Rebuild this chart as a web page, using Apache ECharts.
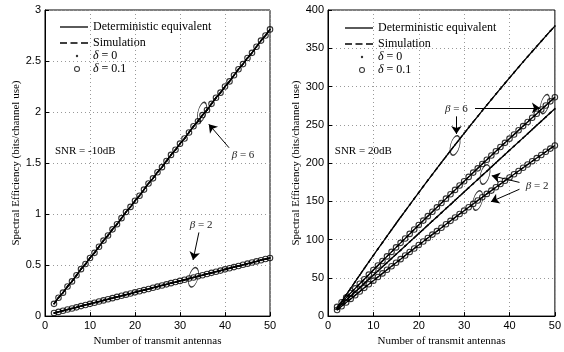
<!DOCTYPE html>
<html>
<head>
<meta charset="utf-8">
<script src="https://cdn.jsdelivr.net/npm/echarts@6.0.0/dist/echarts.min.js"></script>
<style>
html, body { margin: 0; padding: 0; background: #fff; }
#container { width: 564px; height: 352px; }
</style>
</head>
<body>
<div id="container"></div>
<script>
// number of transmit antennas
const antennas = [2, 3, 4, 5, 6, 7, 8, 9, 10, 11, 12, 13, 14, 15, 16, 17, 18, 19, 20, 21, 22, 23, 24, 25, 26,
  27, 28, 29, 30, 31, 32, 33, 34, 35, 36, 37, 38, 39, 40, 41, 42, 43, 44, 45, 46, 47, 48, 49, 50]

// SNR = -10dB (delta = 0 and delta = 0.1 lie on top of each other)
const lowB6 = [0.12, 0.18, 0.23, 0.29, 0.34, 0.40, 0.46, 0.51, 0.57, 0.62, 0.68, 0.74, 0.79, 0.85, 0.90, 0.96,
  1.02, 1.07, 1.13, 1.18, 1.24, 1.30, 1.35, 1.41, 1.46, 1.52, 1.58, 1.63, 1.69, 1.74, 1.80, 1.86, 1.91, 1.97,
  2.02, 2.08, 2.14, 2.19, 2.25, 2.30, 2.36, 2.42, 2.47, 2.53, 2.58, 2.64, 2.70, 2.75, 2.81]
const lowB2 = [0.030, 0.041, 0.053, 0.064, 0.075, 0.086, 0.098, 0.109, 0.120, 0.131, 0.143, 0.154, 0.165, 0.176,
  0.188, 0.199, 0.210, 0.221, 0.233, 0.244, 0.255, 0.266, 0.278, 0.289, 0.300, 0.311, 0.323, 0.334, 0.345, 0.356,
  0.368, 0.379, 0.390, 0.401, 0.413, 0.424, 0.435, 0.446, 0.458, 0.469, 0.480, 0.491, 0.503, 0.514, 0.525, 0.536,
  0.548, 0.559, 0.570]

// SNR = 20dB
const highB6d0 = [10.0, 18.8, 27.6, 36.4, 45.0, 53.7, 62.3, 70.8, 79.3, 87.7, 96.1, 104.5, 112.8, 121.0, 129.2,
  137.3, 145.4, 153.5, 161.5, 169.5, 177.4, 185.2, 193.0, 200.8, 208.5, 216.2, 223.8, 231.3, 238.9, 246.3, 253.8,
  261.1, 268.4, 275.7, 282.9, 290.1, 297.2, 304.3, 311.4, 318.3, 325.3, 332.2, 339.0, 345.8, 352.5, 359.2, 365.9,
  372.5, 379.0]
const highB6d1 = [12.0, 18.1, 24.1, 30.2, 36.2, 42.2, 48.2, 54.2, 60.2, 66.1, 72.1, 78.0, 83.9, 89.8, 95.7, 101.5,
  107.4, 113.2, 119.0, 124.8, 130.6, 136.3, 142.1, 147.8, 153.5, 159.2, 164.9, 170.6, 176.2, 181.9, 187.5, 193.1,
  198.7, 204.3, 209.8, 215.4, 220.9, 226.4, 231.9, 237.4, 242.8, 248.3, 253.7, 259.1, 264.5, 269.9, 275.3, 280.6,
  286.0]
const highB2d0 = [10.0, 15.4, 20.9, 26.3, 31.8, 37.2, 42.6, 48.1, 53.5, 58.9, 64.4, 69.8, 75.3, 80.7, 86.1, 91.6,
  97.0, 102.4, 107.9, 113.3, 118.8, 124.2, 129.6, 135.1, 140.5, 145.8, 151.4, 156.8, 162.3, 167.7, 173.1, 178.6,
  184.0, 189.4, 194.9, 200.3, 205.8, 211.2, 216.6, 222.1, 227.5, 232.9, 238.4, 243.8, 249.3, 254.7, 260.1, 265.6,
  271.0]
const highB2d1 = [8.0, 12.8, 17.7, 22.5, 27.3, 32.1, 36.9, 41.6, 46.3, 51.1, 55.8, 60.5, 65.1, 69.8, 74.4, 79.1,
  83.7, 88.3, 92.9, 97.4, 102.0, 106.5, 111.0, 115.5, 120.0, 124.5, 128.9, 133.4, 137.8, 142.2, 146.6, 151.0,
  155.3, 159.7, 164.0, 168.3, 172.6, 176.9, 181.2, 185.4, 189.7, 193.9, 198.1, 202.3, 206.5, 210.6, 214.7, 218.9,
  223.0]

const serif = 'Liberation Serif'
const sans = 'Liberation Sans'

// annotation spots, in data coordinates of each panel
const notes = [
  {
    grid: 0,
    snr: { at: [2.2, 1.62], text: 'SNR = -10dB' },
    ellipses: [[34.9, 2.0, 8, 20], [33, 0.38, 9, 20]],
    arrows: [[[40.9, 1.65], [36.4, 1.88]], [[34.2, 0.82], [32.9, 0.55]]],
    labels: [[44, 1.58, '6'], [34.7, 0.89, '2']]
  },
  {
    grid: 1,
    snr: { at: [1.5, 216], text: 'SNR = 20dB' },
    ellipses: [[28, 223, 9, 20], [47.8, 277, 8, 20], [34.6, 185, 9, 20], [33, 151, 9, 20]],
    arrows: [[[28.3, 261], [28.3, 238]], [[32.4, 272], [46.7, 272]],
      [[42.2, 174.7], [36.1, 183.5]], [[42.2, 165.8], [35.9, 149.4]]],
    labels: [[28.3, 271, '6'], [46.1, 169.6, '2']]
  }
]

const pair = ys => antennas.map((x, i) => [x, ys[i]])

function curve(name, ys, idx, type) {
  return {
    name, type: 'line', xAxisIndex: idx, yAxisIndex: idx, data: pair(ys),
    symbol: 'none', silent: true, z: 2,
    itemStyle: { color: '#000' },
    lineStyle: { color: '#000', width: 1.3, type }
  }
}

function dots(name, ys, idx, hollow) {
  return {
    name, type: 'scatter', xAxisIndex: idx, yAxisIndex: idx, data: pair(ys),
    symbol: 'circle', symbolSize: hollow ? 5.5 : 2, silent: true, z: 3,
    itemStyle: hollow
      ? { color: 'rgba(0,0,0,0)', borderColor: '#000', borderWidth: 1.1 }
      : { color: '#000' }
  }
}

function panel(idx, b6d0, b2d0, b6d1, b2d1) {
  const out = []
  ;[b6d0, b2d0, b6d1, b2d1].forEach(ys => {
    out.push(curve('Deterministic equivalent', ys, idx, 'solid'))
    out.push(curve('Simulation', ys, idx, [4, 3]))
  })
  ;[b6d0, b2d0].forEach(ys => out.push(dots('δ = 0', ys, idx, false)))
  ;[b6d1, b2d1].forEach(ys => out.push(dots('δ = 0.1', ys, idx, true)))
  const n = notes[idx]
  out.push({
    name: 'notes', type: 'scatter', xAxisIndex: idx, yAxisIndex: idx, silent: true, z: 4,
    symbol: 'circle', symbolRotate: -15,
    itemStyle: { color: 'rgba(0,0,0,0)', borderColor: '#000', borderWidth: 1 },
    data: n.ellipses.map(e => ({ value: [e[0], e[1]], symbolSize: [e[2], e[3]] })),
    markLine: {
      silent: true, symbol: ['none', 'arrow'], symbolSize: 8, animation: false,
      lineStyle: { color: '#000', width: 1, type: 'solid' },
      label: { show: false },
      data: n.arrows.map(a => [{ coord: a[0] }, { coord: a[1] }])
    }
  })
  return out
}

function xAxis(idx) {
  return {
    gridIndex: idx, type: 'value', min: 0, max: 50, interval: 10,
    name: 'Number of transmit antennas', nameLocation: 'middle', nameGap: 12,
    nameTextStyle: { fontFamily: serif, fontSize: 11, color: '#000' },
    axisLine: { onZero: false, lineStyle: { color: '#000', width: 1 } },
    axisTick: { inside: true, length: 4, lineStyle: { color: '#000' } },
    axisLabel: { fontFamily: sans, fontSize: 11, color: '#000', margin: 4 },
    splitLine: { show: true, lineStyle: { color: '#999', width: 1, type: [1, 3] } }
  }
}

function yAxis(idx, max, interval, gap) {
  return {
    gridIndex: idx, type: 'value', min: 0, max, interval,
    name: 'Spectral Efficiency (bits/channel use)', nameLocation: 'middle', nameGap: gap, nameRotate: 90,
    nameTextStyle: { fontFamily: serif, fontSize: 11, color: '#000' },
    axisLine: { onZero: false, lineStyle: { color: '#000', width: 1 } },
    axisTick: { inside: true, length: 4, lineStyle: { color: '#000' } },
    axisLabel: { fontFamily: sans, fontSize: 11, color: '#000', margin: 4 },
    splitLine: { show: true, lineStyle: { color: '#999', width: 1, type: [1, 3] } }
  }
}

const legendText = {
  fontFamily: serif, fontSize: 12, color: '#000', lineHeight: 14,
  rich: { i: { fontFamily: serif, fontSize: 12, fontStyle: 'italic', color: '#000', lineHeight: 14 } }
}

// legend samples, each drawn in a 28px wide box
const solidIcon = 'path://M0,0H28V1.3H0Z'
const dashIcon = 'path://M0,0H7V1.3H0ZM10.5,0H17.5V1.3H10.5ZM21,0H28V1.3H21Z'
const dotIcon = 'path://M0,1.2h0.01v0.01h-0.01ZM27.99,1.2h0.01v0.01h-0.01Z' +
  'M15.8,1.2A1.2,1.2 0 1,0 18.2,1.2A1.2,1.2 0 1,0 15.8,1.2Z'
const ringIcon = 'path://M0,3h0.01v0.01h-0.01ZM27.99,3h0.01v0.01h-0.01Z' +
  'M14,3A3,3 0 1,0 20,3A3,3 0 1,0 14,3ZM15,3A2,2 0 1,1 19,3A2,2 0 1,1 15,3Z'

function legends(left, top) {
  const base = (t, h, name, icon) => ({
    left, top: t, orient: 'vertical', padding: 0, itemWidth: 28, itemHeight: h, itemGap: 0,
    selectedMode: false, textStyle: legendText,
    data: [{ name, icon, itemStyle: { color: '#000', borderWidth: 0 } }],
    formatter: n => n.replace('δ', '{i|δ}')
  })
  return [
    base(top, 1.3, 'Deterministic equivalent', solidIcon),
    base(top + 16, 1.3, 'Simulation', dashIcon),
    base(top + 29, 2.4, 'δ = 0', dotIcon),
    base(top + 42, 6, 'δ = 0.1', ringIcon)
  ]
}

const chart = echarts.init(document.getElementById('container'))

chart.setOption({
  animation: false,
  backgroundColor: '#fff',
  grid: [
    { left: 45, right: 294, top: 10, bottom: 26, show: true, borderColor: '#000', borderWidth: 1 },
    { left: 328, right: 6, top: 10, bottom: 26, show: true, borderColor: '#000', borderWidth: 1 }
  ],
  legend: [...legends(60, 20), ...legends(345, 21)],
  xAxis: [xAxis(0), xAxis(1)],
  yAxis: [yAxis(0, 3, 0.5, 22), yAxis(1, 400, 50, 26)],
  series: [
    ...panel(0, lowB6, lowB2, lowB6, lowB2),
    ...panel(1, highB6d0, highB2d0, highB6d1, highB2d1)
  ]
})

// text annotations placed through the axes' own scales
const graphics = []
notes.forEach(n => {
  const p = chart.convertToPixel({ gridIndex: n.grid }, n.snr.at)
  graphics.push({
    type: 'text', x: p[0], y: p[1], silent: true,
    style: { text: n.snr.text, fill: '#000', font: '11px "Liberation Serif"', verticalAlign: 'middle', align: 'left' }
  })
  n.labels.forEach(l => {
    const q = chart.convertToPixel({ gridIndex: n.grid }, [l[0], l[1]])
    graphics.push({
      type: 'text', x: q[0], y: q[1], silent: true,
      style: {
        text: '{i|β} = ' + l[2], fill: '#222', font: '11px "Liberation Serif"',
        verticalAlign: 'middle', align: 'center',
        rich: { i: { fontStyle: 'italic', fontFamily: serif, fontSize: 11, fill: '#222' } }
      }
    })
  })
})
chart.setOption({ graphic: graphics })
</script>
</body>
</html>
